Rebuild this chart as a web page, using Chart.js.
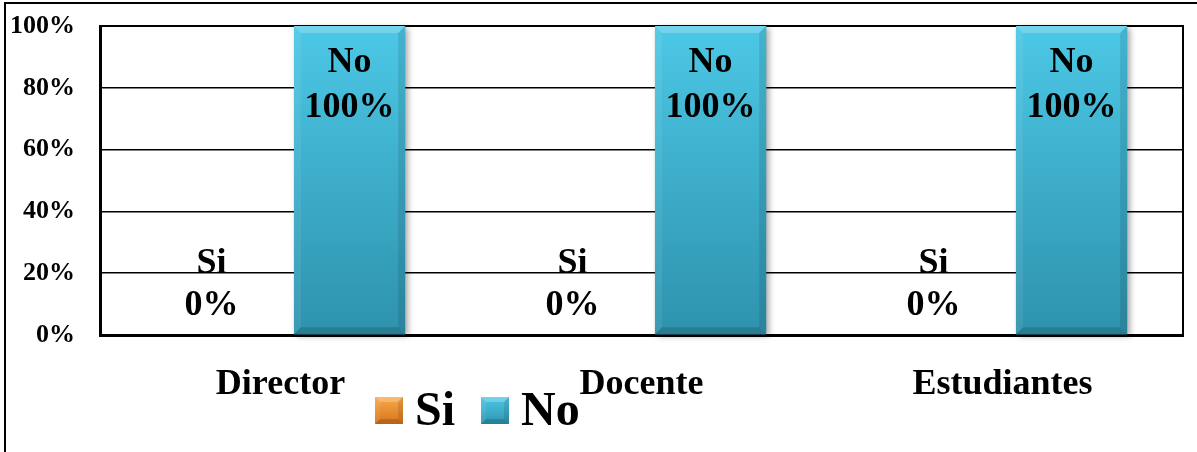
<!DOCTYPE html>
<html><head><meta charset="utf-8">
<script src="https://cdn.jsdelivr.net/npm/chart.js@4.4.0/dist/chart.umd.min.js"></script>
<style>
html,body{margin:0;padding:0;background:#fff;}
#wrap{position:relative;width:1197px;height:452px;overflow:hidden;background:#fff;}
#frame{position:absolute;left:4px;top:2px;width:1300px;height:500px;border-top:2px solid #000;border-left:2px solid #000;box-sizing:border-box;}
canvas{position:absolute;left:0;top:0;}
</style></head><body>
<div id="wrap"><div id="frame"></div><canvas id="c" width="1197" height="452"></canvas></div>
<script>
const categories = ['Director', 'Docente', 'Estudiantes'];
const seriesNames = ['Si', 'No'];
const siValues = [0, 0, 0];
const noValues = [100, 100, 100];
const yTicks = [0, 20, 40, 60, 80, 100];

const FONT = '"Liberation Serif", "Times New Roman", serif';
const palette = {
  Si: { top: '#f8a94a', bottom: '#d6711b' },
  No: { top: '#4cc8e6', bottom: '#2e92ad' }
};

function grad(ctx, top, bottom, c) {
  const g = ctx.createLinearGradient(0, top, 0, bottom);
  g.addColorStop(0, c.top);
  g.addColorStop(1, c.bottom);
  return g;
}

function bevel(ctx, x0, yT, x1, yB, b) {
  ctx.save();
  ctx.fillStyle = 'rgba(255,255,255,0.22)';
  ctx.beginPath(); ctx.moveTo(x0, yT); ctx.lineTo(x1, yT); ctx.lineTo(x1 - b, yT + b); ctx.lineTo(x0 + b, yT + b); ctx.closePath(); ctx.fill();
  ctx.fillStyle = 'rgba(255,255,255,0.07)';
  ctx.beginPath(); ctx.moveTo(x0, yT); ctx.lineTo(x0 + b, yT + b); ctx.lineTo(x0 + b, yB - b); ctx.lineTo(x0, yB); ctx.closePath(); ctx.fill();
  ctx.fillStyle = 'rgba(0,0,0,0.10)';
  ctx.beginPath(); ctx.moveTo(x1, yT); ctx.lineTo(x1 - b, yT + b); ctx.lineTo(x1 - b, yB - b); ctx.lineTo(x1, yB); ctx.closePath(); ctx.fill();
  ctx.fillStyle = 'rgba(0,0,0,0.15)';
  ctx.beginPath(); ctx.moveTo(x0, yB); ctx.lineTo(x0 + b, yB - b); ctx.lineTo(x1 - b, yB - b); ctx.lineTo(x1, yB); ctx.closePath(); ctx.fill();
  ctx.restore();
}

const framePlugin = {
  id: 'frame',
  beforeDatasetsDraw(chart) {
    const { ctx, chartArea: a } = chart;
    ctx.save();
    ctx.strokeStyle = '#000';
    ctx.lineWidth = 2;
    ctx.beginPath();
    ctx.moveTo(a.left, a.top); ctx.lineTo(a.right, a.top); ctx.lineTo(a.right, a.bottom);
    ctx.stroke();
    chart.data.datasets.forEach((ds, i) => {
      chart.getDatasetMeta(i).data.forEach(bar => {
        const h = bar.base - bar.y;
        if (h < 2) return;
        ctx.save();
        ctx.shadowColor = 'rgba(0,0,0,0.35)';
        ctx.shadowBlur = 6;
        ctx.shadowOffsetX = 3;
        ctx.shadowOffsetY = 2;
        ctx.fillStyle = palette[ds.label].bottom;
        ctx.fillRect(bar.x - bar.width / 2, bar.y, bar.width, h);
        ctx.restore();
      });
    });
    ctx.restore();
  }
};

const bevelPlugin = {
  id: 'bevel',
  afterDatasetsDraw(chart) {
    const ctx = chart.ctx;
    chart.data.datasets.forEach((ds, i) => {
      chart.getDatasetMeta(i).data.forEach(bar => {
        const h = bar.base - bar.y;
        if (h < 20) return;
        bevel(ctx, bar.x - bar.width / 2, bar.y, bar.x + bar.width / 2, bar.base, 7);
      });
    });
  }
};

const labelPlugin = {
  id: 'labels',
  afterDatasetsDraw(chart) {
    const ctx = chart.ctx;
    ctx.save();
    ctx.fillStyle = '#000';
    ctx.font = 'bold 36px ' + FONT;
    ctx.textAlign = 'center';
    ctx.textBaseline = 'alphabetic';
    chart.data.datasets.forEach((ds, i) => {
      chart.getDatasetMeta(i).data.forEach((bar, j) => {
        const v = ds.data[j];
        const h = bar.base - bar.y;
        let y1, y2;
        if (h > 100) { y1 = bar.y + 46; y2 = bar.y + 91; }
        else { y1 = bar.base - 62; y2 = bar.base - 20; }
        ctx.fillText(ds.label, bar.x, y1);
        ctx.fillText(v + '%', bar.x, y2);
      });
    });
    ctx.restore();
  }
};

const legendPlugin = {
  id: 'customLegend',
  afterDraw(chart) {
    const ctx = chart.ctx;
    ctx.save();
    ctx.font = 'bold 48px ' + FONT;
    ctx.textBaseline = 'alphabetic';
    ctx.fillStyle = '#000';
    let x = 375;
    const boxTop = 397, boxSize = 28, baseline = 425;
    chart.data.datasets.forEach(ds => {
      const c = palette[ds.label];
      ctx.fillStyle = grad(ctx, boxTop, boxTop + boxSize, c);
      ctx.fillRect(x, boxTop, boxSize, boxSize - 1);
      bevel(ctx, x, boxTop, x + boxSize, boxTop + boxSize - 1, 5);
      ctx.fillStyle = '#000';
      ctx.fillText(ds.label, x + boxSize + 12, baseline);
      x += boxSize + 12 + ctx.measureText(ds.label).width + 26;
    });
    ctx.restore();
  }
};

const values = { Si: siValues, No: noValues };

new Chart(document.getElementById('c'), {
  type: 'bar',
  data: {
    labels: categories,
    datasets: seriesNames.map(name => ({
      label: name,
      data: values[name],
      backgroundColor: (ctx) => {
        const a = ctx.chart.chartArea;
        if (!a) return palette[name].bottom;
        return grad(ctx.chart.ctx, a.top, a.bottom, palette[name]);
      },
      borderWidth: 0,
      categoryPercentage: 0.765,
      barPercentage: 0.805
    }))
  },
  options: {
    responsive: false,
    animation: false,
    devicePixelRatio: 1,
    layout: { padding: { top: 26, right: 14, left: 0, bottom: 0 } },
    plugins: { legend: { display: false }, tooltip: { enabled: false } },
    scales: {
      x: {
        grid: { display: false },
        border: { display: true, color: '#000', width: 3 },
        ticks: { color: '#000', font: { family: FONT, size: 36, weight: 'bold' }, padding: 20, maxRotation: 0 },
        afterFit(s) { s.height = 117; s.paddingLeft = 0; s.paddingRight = 0; }
      },
      y: {
        min: 0, max: 100,
        afterBuildTicks(s) { s.ticks = yTicks.map(v => ({ value: v })); },
        grid: { color: '#000', lineWidth: 1.5, drawTicks: false },
        border: { display: true, color: '#000', width: 3 },
        ticks: { color: '#000', padding: 25, font: { family: FONT, size: 26, weight: 'bold' }, callback: v => v + '%' },
        afterFit(s) { s.width = 100; s.paddingTop = 0; s.paddingBottom = 0; }
      }
    }
  },
  plugins: [framePlugin, bevelPlugin, labelPlugin, legendPlugin]
});
</script>
</body></html>
